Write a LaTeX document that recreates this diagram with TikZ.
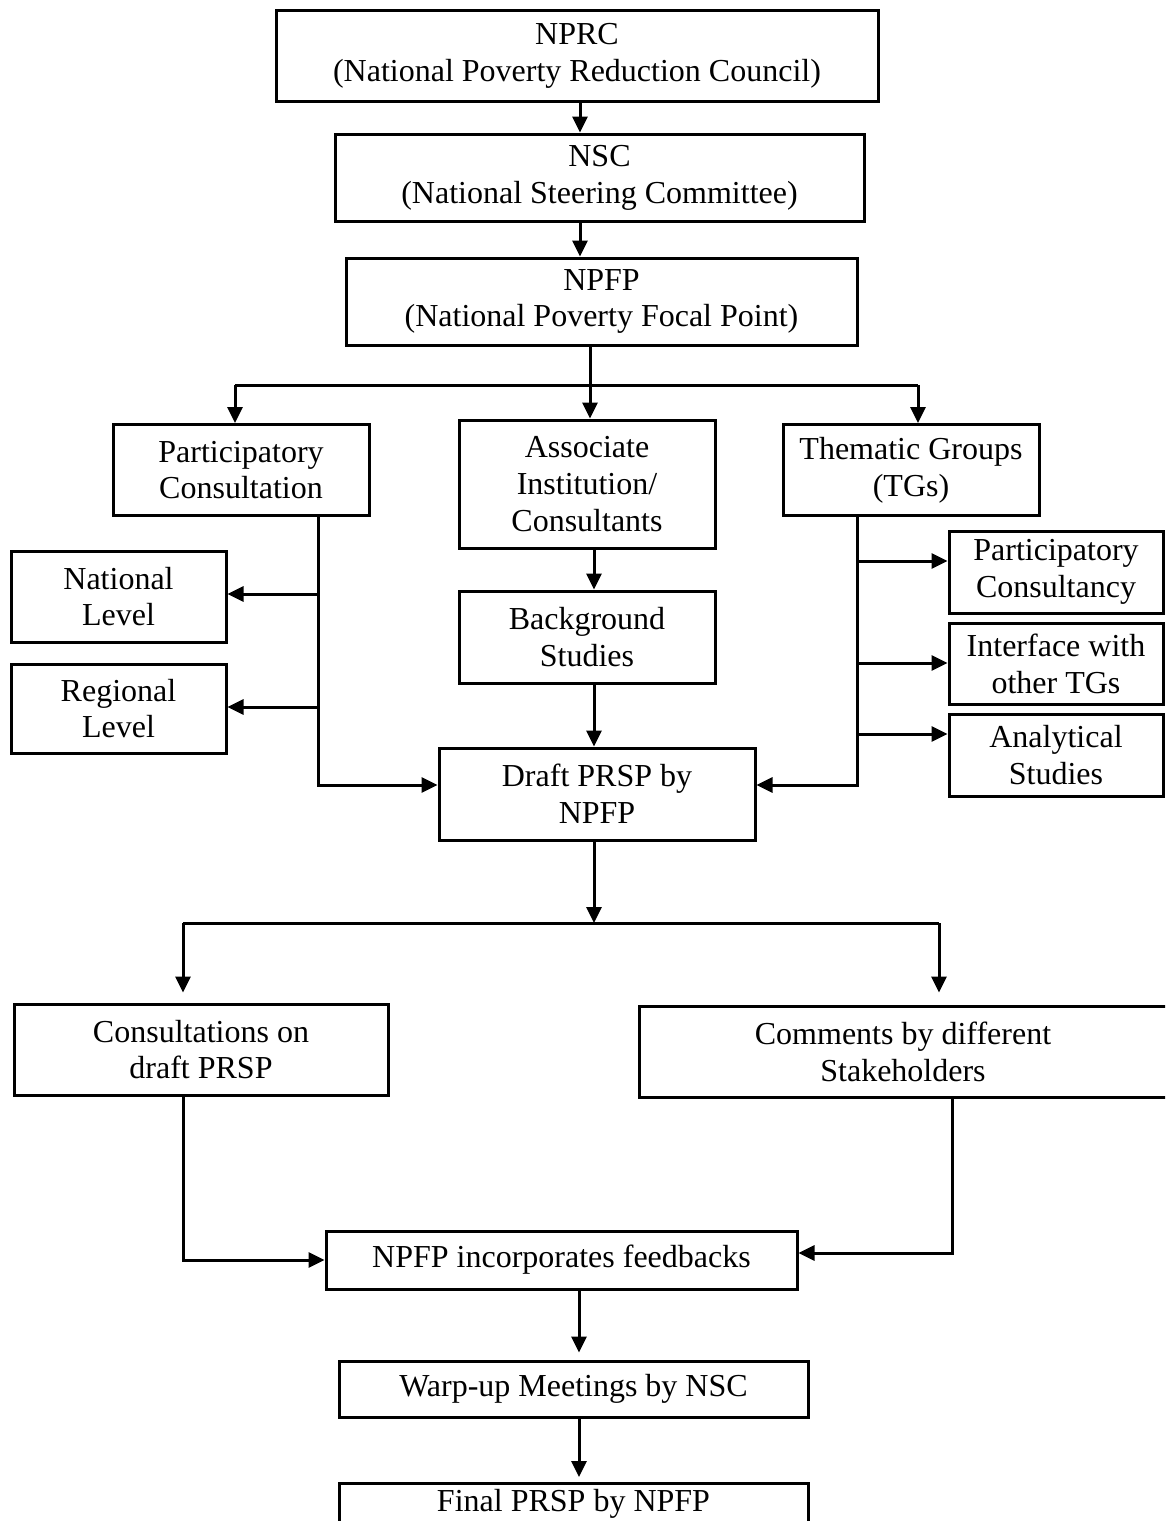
\documentclass[tikz,border=0pt]{standalone}
\usepackage{fontspec}
\setmainfont{Liberation Serif}
\usetikzlibrary{arrows.meta}
\begin{document}
\begin{tikzpicture}[x=1pt,y=-1pt,
  box/.style={draw,line width=3pt,inner sep=0pt,align=center,
    font=\fontsize{32}{36.8}\selectfont},
  line/.style={line width=3pt},
  arr/.style={line width=3pt,-{Triangle[length=16pt,width=15pt]}}]
\fill[white] (0,0) rectangle (1165,1521);
\useasboundingbox (0,0) rectangle (1165,1521);
\begin{scope}
\clip (0,0) rectangle (1165,1521);
\node[box,minimum width=602pt,minimum height=91pt] (nprc) at (577,55.5) {NPRC\\(National Poverty Reduction Council)};
\node[box,minimum width=529pt,minimum height=87pt] (nsc) at (599.5,177.5) {NSC\\(National Steering Committee)};
\node[box,minimum width=511pt,minimum height=87pt] (npfp) at (601.5,301.5) {NPFP\\(National Poverty Focal Point)};
\node[box,minimum width=256pt,minimum height=91pt] (pc) at (241,470) {Participatory\\Consultation};
\node[box,minimum width=256pt,minimum height=128pt] (ai) at (587,484) {Associate\\Institution/\\Consultants};
\node[box,minimum width=256pt,minimum height=91pt] (tg) at (911,470) {Thematic Groups\\(TGs)};
\node[box,minimum width=215pt,minimum height=91pt] (nat) at (118.5,596.5) {National\\Level};
\node[box,minimum width=215pt,minimum height=89pt] (reg) at (118.5,708.5) {Regional\\Level};
\node[box,minimum width=256pt,minimum height=92pt] (bg) at (587,637) {Background\\Studies};
\node[box,minimum width=316pt,minimum height=92pt] (draft) at (597,794) {Draft PRSP by\\NPFP};
\node[box,minimum width=214pt,minimum height=82pt] (pcy) at (1056,572) {Participatory\\Consultancy};
\node[box,minimum width=214pt,minimum height=81pt] (itf) at (1056,663.5) {Interface with\\other TGs};
\node[box,minimum width=214pt,minimum height=82pt] (ana) at (1056,755) {Analytical\\Studies};
\node[box,minimum width=374pt,minimum height=91pt] (cons) at (201,1049.5) {Consultations on\\draft PRSP};
\node[box,minimum width=528pt,minimum height=91pt] (comm) at (903,1051.5) {Comments by different\\Stakeholders};
\node[box,minimum width=471pt,minimum height=58pt] (inc) at (561.5,1260) {NPFP incorporates feedbacks};
\node[box,minimum width=469pt,minimum height=56pt] (warp) at (573.5,1389) {Warp-up Meetings by NSC};
\node[box,minimum width=469pt,text height=28pt,text depth=50pt,anchor=north] (final) at (573.5,1482) {Final PRSP by NPFP};
\end{scope}
% top chain
\coordinate (c0) at (580,0);
\draw[arr] (nprc.south -| c0) -- (nsc.north -| c0);
\draw[arr] (nsc.south -| c0) -- (npfp.north -| c0);
% first split
\coordinate (j1) at (590,385);
\coordinate (j1l) at (235,385);
\coordinate (j1r) at (918,385);
\draw[arr] (npfp.south -| j1) -- (ai.north -| j1);
\draw[line] (j1l) -- (j1r);
\draw[arr] (j1l) -- (j1l |- pc.north);
\draw[arr] (j1r) -- (j1r |- tg.north);
% left trunk
\coordinate (lb) at (318,785);
\coordinate (natb) at (318,594);
\coordinate (regb) at (318,707);
\draw[arr] (pc.south -| lb) -- (lb) -- (lb -| draft.west);
\draw[arr] (natb) -- (natb -| nat.east);
\draw[arr] (regb) -- (regb -| reg.east);
% middle
\coordinate (cm) at (594,0);
\draw[arr] (ai.south -| cm) -- (bg.north -| cm);
\draw[arr] (bg.south -| cm) -- (draft.north -| cm);
% right trunk
\coordinate (rb) at (857,785);
\coordinate (pcyb) at (857,561);
\coordinate (itfb) at (857,663);
\coordinate (anab) at (857,734);
\draw[arr] (tg.south -| rb) -- (rb) -- (rb -| draft.east);
\draw[arr] (pcyb) -- (pcyb -| pcy.west);
\draw[arr] (itfb) -- (itfb -| itf.west);
\draw[arr] (anab) -- (anab -| ana.west);
% second split
\coordinate (j2) at (594,923);
\coordinate (j2l) at (183,923);
\coordinate (j2r) at (939,923);
\draw[arr] (draft.south -| j2) -- (j2);
\draw[line] (j2l) -- (j2r);
\draw[arr,shorten >=10pt] (j2l) -- (j2l |- cons.north);
\draw[arr,shorten >=12pt] (j2r) -- (j2r |- comm.north);
% feedback
\coordinate (cb) at (183,1260);
\coordinate (cr) at (952,1253);
\draw[arr] (cons.south -| cb) -- (cb) -- (cb -| inc.west);
\draw[arr] (comm.south -| cr) -- (cr) -- (cr -| inc.east);
% bottom chain
\coordinate (j3) at (579,0);
\draw[arr,shorten >=7pt] (inc.south -| j3) -- (warp.north -| j3);
\draw[arr,shorten >=5pt] (warp.south -| j3) -- (final.north -| j3);
\end{tikzpicture}
\end{document}
